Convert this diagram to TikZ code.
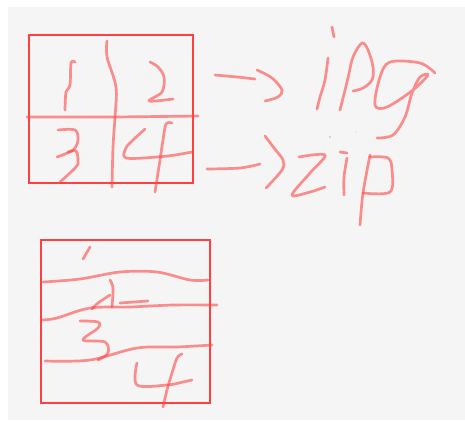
\documentclass[tikz,border=0pt]{standalone}
\begin{document}
\begin{tikzpicture}[x=1pt,y=-1pt,
  frame/.style={draw={rgb,255:red,255;green,64;blue,64}, line width=1.1pt},
  ink/.style={draw={rgb,255:red,255;green,70;blue,70}, draw opacity=0.6,
    line width=2.7pt, line cap=round, line join=round}]
\tikzset{every plot/.style={tension=0.55}}
\useasboundingbox (0,0) rectangle (465,421);
% canvas
\fill[white] (0,0) rectangle (465,421);
\fill[black!4] (8,7) rectangle (465,420);

% upper box, split in four
\draw[frame] (29,35) rectangle (193,183);
\draw[ink] plot[smooth] coordinates {(27,117) (110,117) (198,116)};
\draw[ink] plot[smooth] coordinates {(107,41) (107,57) (116,87) (115,117) (113,147) (112,187)};
% 1
\draw[ink] plot[smooth] coordinates {(75,62) (71,63) (70,85) (66,92) (65,110)};
% 2
\draw[ink] plot[smooth] coordinates {(150,62) (158,67) (164,77) (162,92) (149,101) (173,99)};
% 3
\draw[ink] plot[smooth] coordinates {(58,130) (75,130) (78,140) (73,150) (57,157)};
\draw[ink] plot[smooth] coordinates {(68,152) (76,151) (78,160) (76,167) (60,182)};
% 4
\draw[ink] plot[smooth] coordinates {(145,129) (133,140) (126,148) (126,158) (157,157) (175,155) (192,152)};
\draw[ink] plot[smooth] coordinates {(172,123) (166,124) (163,140) (160,160) (155,192)};

% arrows
\draw[ink] plot[smooth] coordinates {(215,75) (237,77) (255,79)};
\draw[ink] plot[smooth] coordinates {(257,70) (272,78) (282,90) (278,97) (265,101)};
\draw[ink] plot[smooth] coordinates {(207,169) (240,168) (260,164)};
\draw[ink] plot[smooth] coordinates {(265,136) (274,148) (283,160) (282,170) (266,188)};

% ipg
\draw[ink] (332,27) -- (334,37);
\draw[ink] plot[smooth] coordinates {(328,58) (325,80) (320,97) (317,109)};
\draw[ink] plot[smooth] coordinates {(340,110) (348,78) (353,57) (362,43) (368,50) (373,67) (372,80) (363,88) (353,91)};
\draw[ink] plot[smooth] coordinates {(435,73) (420,63) (390,62) (380,77) (375,105) (387,107) (413,90) (428,75) (420,77) (412,93) (405,117) (393,135) (377,138)};
\fill[red!60, opacity=0.7] (330,137) circle (0.9);
\fill[red!30, opacity=0.5] (356,132) circle (0.9);

% zip
\draw[ink] plot[smooth] coordinates {(299,157) (325,155) (310,173) (292,195) (310,192) (325,187)};
\draw[ink] (340,152) -- (347,153);
\draw[ink] plot[smooth] coordinates {(347,158) (344,177) (344,195)};
\draw[ink] plot[smooth] coordinates {(370,155) (363,193) (360,225)};
\draw[ink] plot[smooth] coordinates {(370,157) (388,158) (392,170) (390,192) (363,193)};

% lower box, split in four strips
\draw[frame] (41,240) rectangle (210,403);
\draw[ink] plot[smooth] coordinates {(43,282) (80,279) (120,272) (157,272) (190,280) (208,280)};
\draw[ink] plot[smooth] coordinates {(42,320) (57,318) (90,308) (130,307) (173,305) (217,305)};
\draw[ink] plot[smooth] coordinates {(45,361) (90,360) (137,348) (177,347) (212,345)};
% 1
\draw[ink] (90,247) -- (83,259);
% 2
\draw[ink] plot[smooth] coordinates {(110,280) (113,288) (112,307)};
\draw[ink] plot[smooth] coordinates {(110,295) (98,303) (92,309)};
\draw[ink] plot[smooth] coordinates {(120,303) (148,301)};
% 3
\draw[ink] plot[smooth] coordinates {(80,321) (98,322) (98,328) (83,340) (105,342) (108,353) (98,360)};
% 4
\draw[ink] plot[smooth] coordinates {(137,363) (137,385) (167,385) (183,382) (192,380)};
\draw[ink] plot[smooth] coordinates {(182,354) (177,358) (172,373) (167,390) (163,407)};
\end{tikzpicture}
\end{document}
